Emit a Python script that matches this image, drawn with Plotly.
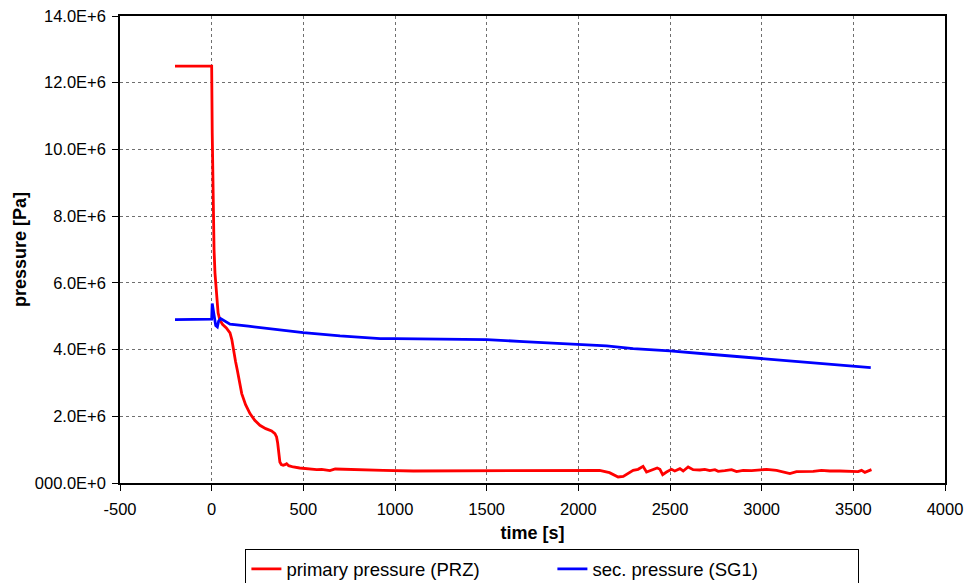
import plotly.graph_objects as go

# primary pressure (PRZ)
t_prz = [-200, 0, 3, 6, 9, 13, 18, 22, 27, 35, 45, 60, 80, 100, 110, 118, 130, 140, 152, 164,
         185, 209, 235, 263, 295, 327, 345, 354, 360, 363, 368, 372, 380, 390, 400, 409, 420,
         445, 480, 520, 573, 600, 645, 674, 717, 800, 935, 1100, 1300, 1500, 1800, 2000, 2116,
         2170, 2217, 2245, 2299, 2326, 2353, 2372, 2399, 2430, 2445, 2460, 2481, 2508, 2526,
         2554, 2572, 2599, 2626, 2663, 2690, 2717, 2745, 2763, 2799, 2836, 2863, 2899, 2945,
         3027, 3081, 3154, 3190, 3245, 3281, 3326, 3372, 3426, 3499, 3526, 3545, 3563, 3599]
p_prz = [12.5, 12.5, 10.5, 9.2, 8.0, 7.0, 6.3, 6.0, 5.5, 5.1, 4.88, 4.75, 4.65, 4.5, 4.3, 4.0,
         3.65, 3.38, 3.0, 2.68, 2.35, 2.08, 1.88, 1.73, 1.63, 1.56, 1.48, 1.38, 1.2, 1.08, 0.8,
         0.63, 0.55, 0.53, 0.55, 0.58, 0.52, 0.48, 0.45, 0.42, 0.40, 0.41, 0.37, 0.42, 0.41,
         0.40, 0.38, 0.36, 0.36, 0.37, 0.37, 0.38, 0.38, 0.31, 0.18, 0.20, 0.38, 0.41, 0.50,
         0.33, 0.39, 0.45, 0.41, 0.25, 0.33, 0.41, 0.36, 0.43, 0.36, 0.48, 0.40, 0.39, 0.41,
         0.37, 0.40, 0.35, 0.37, 0.40, 0.34, 0.38, 0.37, 0.41, 0.38, 0.28, 0.34, 0.34, 0.35,
         0.38, 0.36, 0.36, 0.35, 0.34, 0.38, 0.32, 0.40]

# sec. pressure (SG1)
t_sg1 = [-200, 0, 3, 8, 14, 22, 31, 38, 49, 65, 80, 100, 200, 354, 500, 700, 827, 919, 1000,
         1200, 1500, 1700, 2001, 2154, 2299, 2499, 2717, 3002, 3300, 3595]
p_sg1 = [4.90, 4.91, 5.38, 5.2, 4.9, 4.72, 4.68, 4.85, 4.93, 4.88, 4.82, 4.76, 4.70, 4.60,
         4.51, 4.41, 4.36, 4.33, 4.33, 4.32, 4.30, 4.24, 4.15, 4.11, 4.03, 3.96, 3.86, 3.73,
         3.60, 3.46]

y_tickvals = [0, 2e6, 4e6, 6e6, 8e6, 10e6, 12e6, 14e6]
y_ticktext = ["000.0E+0", "2.0E+6", "4.0E+6", "6.0E+6", "8.0E+6", "10.0E+6", "12.0E+6", "14.0E+6"]
x_tickvals = [-500, 0, 500, 1000, 1500, 2000, 2500, 3000, 3500, 4000]
x_ticktext = ["-500", "0", "500", "1000", "1500", "2000", "2500", "3000", "3500", "4000"]

FONT = "Liberation Sans, Arial, sans-serif"

fig = go.Figure()
fig.add_trace(go.Scatter(x=t_prz, y=[v * 1e6 for v in p_prz], mode="lines",
                         name="primary pressure (PRZ)",
                         line=dict(color="#ff0000", width=2.8)))
fig.add_trace(go.Scatter(x=t_sg1, y=[v * 1e6 for v in p_sg1], mode="lines",
                         name="sec. pressure (SG1)",
                         line=dict(color="#0000ff", width=2.8)))

axis_common = dict(showline=True, linecolor="black", linewidth=1.5, mirror=True,
                   showgrid=True, gridcolor="#6f6f6f", griddash="dot", gridwidth=1,
                   zeroline=False, ticks="outside", ticklen=6, tickcolor="black",
                   tickfont=dict(family=FONT, size=16.5, color="black"))

fig.update_layout(
    width=964, height=583,
    margin=dict(l=120, r=19, t=16, b=100, autoexpand=False),
    paper_bgcolor="white", plot_bgcolor="white",
    font=dict(family=FONT, size=16, color="black"),
    showlegend=True,
    legend=dict(orientation="h", x=0.152, y=-0.1420, xanchor="left", yanchor="top",
                bgcolor="white", bordercolor="black", borderwidth=1,
                font=dict(family=FONT, size=18.5, color="black"),
                entrywidth=261, entrywidthmode="pixels", tracegroupgap=0),
    xaxis=dict(range=[-500, 4000], tickvals=x_tickvals, ticktext=x_ticktext,
               ticklabelstandoff=4,
               title=dict(text="<b>time [s]</b>", standoff=10,
                          font=dict(family=FONT, size=18, color="black")),
               **axis_common),
    yaxis=dict(range=[0, 14e6], tickvals=y_tickvals, ticktext=y_ticktext,
               ticklabelstandoff=3,
               title=dict(text="<b>pressure [Pa]</b>", standoff=4,
                          font=dict(family=FONT, size=18, color="black")),
               **axis_common),
)

fig.write_html("out.html")
